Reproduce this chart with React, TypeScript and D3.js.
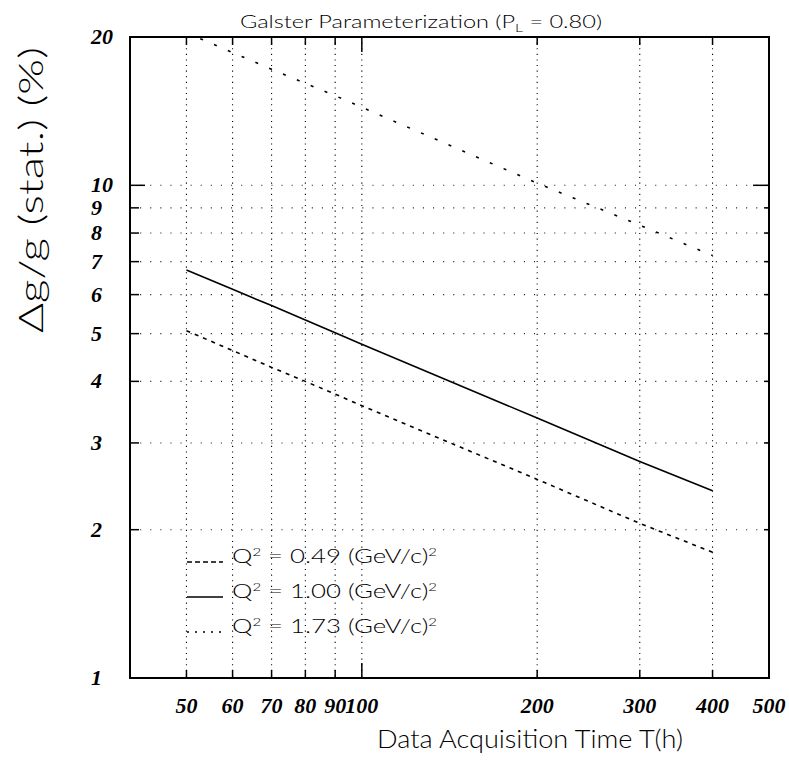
import React from "react";
import * as d3 from "d3";

const times = [50, 60, 70, 80, 90, 100, 200, 300, 400];
const q049 = [20.4, 18.6, 17.2, 16.1, 15.2, 14.4, 10.1, 8.3, 7.2];
const q100 = [6.73, 6.15, 5.7, 5.33, 5.02, 4.76, 3.37, 2.75, 2.4];
const q173 = [5.07, 4.62, 4.27, 4.0, 3.77, 3.57, 2.53, 2.06, 1.8];

const xTicks = [50, 60, 70, 80, 90, 100, 200, 300, 400, 500];
const xGrid = [50, 60, 70, 80, 90, 100, 200, 300, 400];
const yTicks = [1, 2, 3, 4, 5, 6, 7, 8, 9, 10, 20];
const yGrid = [2, 3, 4, 5, 6, 7, 8, 9, 10];

const legendLabels = ["0.49", "1.00", "1.73"];

const W = 789, H = 770;
const L = 130, R = 769, T = 37, B = 678;

export default function App() {
  const x = d3.scaleLog().domain([40, 500]).range([L, R]);
  const y = d3.scaleLog().domain([1, 20]).range([B, T]);
  const line = d3.line<[number, number]>().x(d => x(d[0])).y(d => y(d[1]));
  const series = [
    { v: q049, dash: "3,12", legDash: "5,3" },
    { v: q100, dash: "", legDash: "" },
    { v: q173, dash: "4,5", legDash: "2,6" },
  ];
  const tickFont = "'Liberation Serif', 'Times New Roman', serif";
  const sans = "Lato, 'Noto Sans', 'DejaVu Sans', sans-serif";
  return (
    <svg width={W} height={H} style={{ position: "absolute", left: 0, top: 0, background: "#fff" }}>
      <defs>
        <clipPath id="plot">
          <rect x={L} y={T} width={R - L} height={B - T} />
        </clipPath>
      </defs>
      <rect x={0} y={0} width={W} height={H} fill="#fff" />
      {/* grid */}
      {xGrid.map(t => (
        <line key={"gx" + t} x1={x(t)} x2={x(t)} y1={T} y2={B} stroke="#000" strokeWidth={1.1} strokeDasharray="1.1,4.5" />
      ))}
      {yGrid.map(t => (
        <line key={"gy" + t} x1={L} x2={R} y1={y(t)} y2={y(t)} stroke="#000" strokeWidth={1.1} strokeDasharray="1.1,9" opacity={0.85} />
      ))}
      {/* curves */}
      <g clipPath="url(#plot)">
        {series.map((s, i) => (
          <path key={i} d={line(times.map((t, j) => [t, s.v[j]]) as [number, number][]) || ""}
            fill="none" stroke="#000" strokeWidth={1.6} strokeDasharray={s.dash || undefined} />
        ))}
      </g>
      {/* frame */}
      <rect x={L} y={T} width={R - L} height={B - T} fill="none" stroke="#000" strokeWidth={2} />
      {/* y ticks */}
      {yTicks.map(t => {
        const big = t === 1 || t === 10 || t === 20;
        return (
          <g key={"yt" + t}>
            <line x1={L} x2={L + (big ? 15 : 9)} y1={y(t)} y2={y(t)} stroke="#000" strokeWidth={1.5} />
            <line x1={R} x2={R - (big ? 16 : 5)} y1={y(t)} y2={y(t)} stroke="#000" strokeWidth={1.5} />
            <text x={91} y={y(t) + 7} fontFamily={tickFont} fontStyle="italic" fontWeight="bold" fontSize={22}>{t}</text>
          </g>
        );
      })}
      {/* x ticks */}
      {xTicks.map(t => {
        const big = t === 100;
        return (
          <g key={"xt" + t}>
            <line x1={x(t)} x2={x(t)} y1={B} y2={B - (big ? 15 : 8)} stroke="#000" strokeWidth={1.5} />
            <line x1={x(t)} x2={x(t)} y1={T} y2={T + (big ? 15 : 8)} stroke="#000" strokeWidth={1.5} />
            <text x={x(t)} y={713} textAnchor="middle" fontFamily={tickFont} fontStyle="italic" fontWeight="bold" fontSize={22}>{t}</text>
          </g>
        );
      })}
      {/* title */}
      <text x={240} y={28} fontFamily={sans} fontWeight={300} fontSize={18} textLength={362} lengthAdjust="spacingAndGlyphs">
        Galster Parameterization (P<tspan fontSize={12} dy={4}>L</tspan><tspan dy={-4}> = 0.80)</tspan>
      </text>
      {/* axis titles */}
      <text x={377} y={748} fontFamily={sans} fontWeight={300} fontSize={26} textLength={306} lengthAdjust="spacingAndGlyphs">Data Acquisition Time T(h)</text>
      <text transform="translate(43,333) rotate(-90)" x={0} y={0} fontFamily={sans} fontWeight={300} fontSize={33} textLength={286} lengthAdjust="spacingAndGlyphs">Δg/g (stat.) (%)</text>
      {/* legend */}
      {series.map((s, i) => {
        const ly = 562 + i * 35;
        return (
          <g key={"lg" + i}>
            <line x1={187} x2={223} y1={ly} y2={ly} stroke="#000" strokeWidth={1.6} strokeDasharray={s.legDash || undefined} />
            <text x={232} y={ly + 1} fontFamily={sans} fontWeight={300} fontSize={19} textLength={205} lengthAdjust="spacingAndGlyphs">
              Q<tspan fontSize={11} dy={-7}>2</tspan><tspan dy={7}> = {legendLabels[i]} (GeV/c)</tspan><tspan fontSize={11} dy={-7}>2</tspan>
            </text>
          </g>
        );
      })}
    </svg>
  );
}
